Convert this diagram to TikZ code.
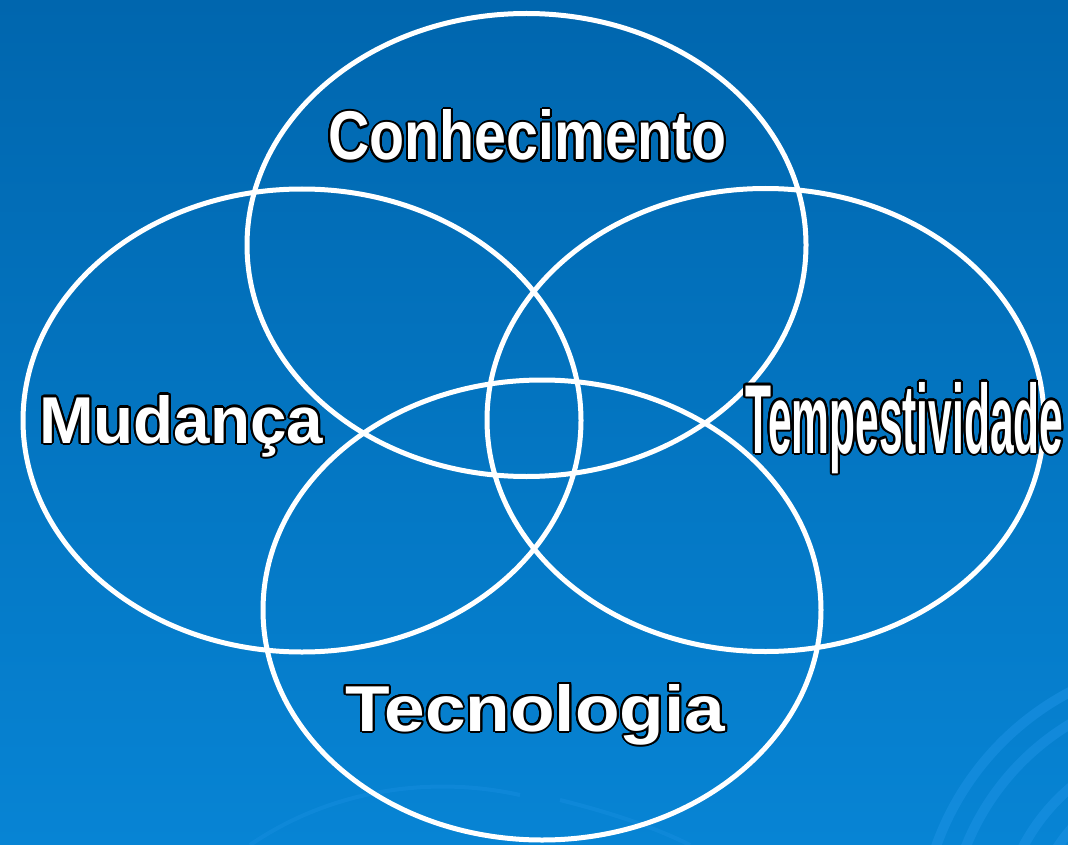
\documentclass[tikz,border=0pt]{standalone}
\usepackage{fontspec}
\setmainfont{Liberation Sans}
\usepackage[copies]{contour}
\contourlength{2pt}
\contournumber{24}
\usepackage{graphicx}
\definecolor{bgtop}{HTML}{0066AE}
\definecolor{bgbot}{HTML}{0784D4}
\definecolor{swirl}{HTML}{1C92E4}
\tikzset{
  ring/.style={draw=white, line width=5pt},
  label/.style={inner sep=0pt, text=white, font=\bfseries},
  swirlarc/.style={draw=swirl, line width=10pt, opacity=0.55},
  swirlthin/.style={draw=swirl, line width=4pt, opacity=0.35},
}
\newcommand\outlined[3]{\contour{black}{\resizebox{#1}{#2}{#3}}}
\begin{document}
\begin{tikzpicture}[x=1pt,y=-1pt]
\useasboundingbox (0,0) rectangle (1068,845);
\shade[top color=bgtop, bottom color=bgbot] (0,0) rectangle (1068,845);
% background swirls
\begin{scope}
\clip (0,0) rectangle (1068,845);
\draw[swirlarc] (1200,940) circle [radius=280];
\draw[swirlarc] (1200,940) circle [radius=252];
\draw[swirlarc] ([shift={(200:200)}]1200,940) arc [start angle=200, end angle=235, radius=200];
\draw[swirlarc] ([shift={(150:200)}]1200,940) arc [start angle=150, end angle=160, radius=200];
\draw[swirlarc] ([shift={(160:170)}]1200,940) arc [start angle=160, end angle=230, radius=170];
\draw[swirlthin] (250,845) .. controls (330,790) and (430,775) .. (520,795);
\draw[swirlthin] (560,800) .. controls (620,815) and (660,830) .. (690,845);
\end{scope}
% rings
\draw[ring] (526.5,245) ellipse [x radius=279.5, y radius=231.5];
\draw[ring] (302,420.5) ellipse [x radius=279, y radius=231.5];
\draw[ring] (765.5,420) ellipse [x radius=278.5, y radius=231.5];
\draw[ring] (542,610) ellipse [x radius=279, y radius=230];
% labels
\node[label, anchor=base west] (con) at (328,160) {\outlined{398pt}{50pt}{Conhecimento}};
\node[label, anchor=base west] (mud) at (39,443) {\outlined{284pt}{48pt}{Mudança}};
\node[label, anchor=base west] (tem) at (745,453) {\outlined{318pt}{71pt}{Tempestividade}};
\node[label, anchor=base west] (tec) at (345,731) {\outlined{380pt}{47pt}{Tecnologia}};
\end{tikzpicture}
\end{document}
